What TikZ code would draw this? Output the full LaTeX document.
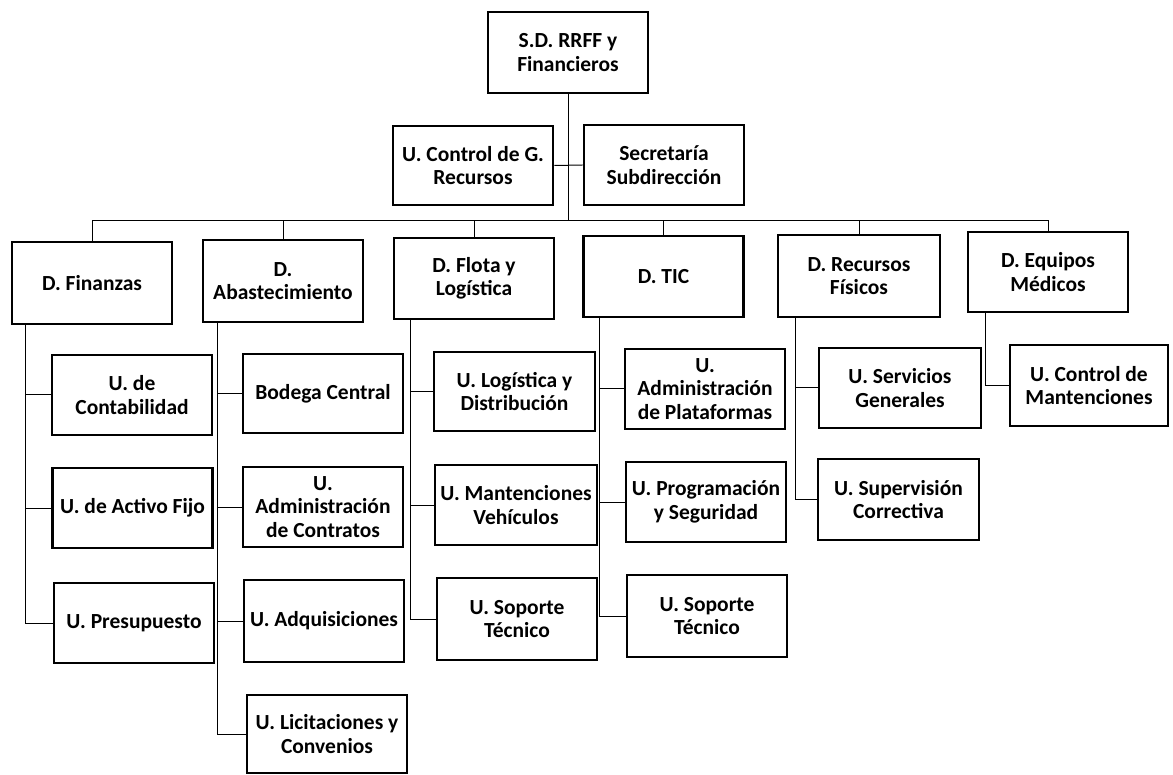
\documentclass[tikz,border=0pt]{standalone}
\usepackage{fontspec}
\setmainfont{Carlito}
\begin{document}
\begin{tikzpicture}[x=1pt,y=-1pt,
  box/.style={draw, line width=2.9pt, align=center, inner sep=0pt,
    minimum width=160pt, minimum height=80pt,
    font=\bfseries\fontsize{21.5}{23.5}\selectfont},
  conn/.style={draw, line width=1pt}]
\useasboundingbox[fill=white] (0,0) rectangle (1173,775);
% top
\node[box, minimum height=81pt] (top) at (568,52.5) {S.D. RRFF y\\Financieros};
\node[box, minimum height=79pt] (ctrl) at (473,165.5) {U. Control de G.\\Recursos};
\node[box] (sec) at (664,165) {Secretaría\\Subdirección};
% departments
\node[box, minimum height=82pt] (fin) at (92,283) {D. Finanzas};
\node[box, minimum height=82pt] (aba) at (283,281) {D.\\Abastecimiento};
\node[box, minimum height=81pt] (flo) at (474,278.5) {D. Flota y\\Logística};
\node[box, minimum height=81pt] (tic) at (663.5,276.5) {D. TIC};
\node[box, minimum width=162pt, minimum height=82pt] (rec) at (859,276) {D. Recursos\\Físicos};
\node[box] (equ) at (1048,272) {D. Equipos\\Médicos};
% Finanzas units
\node[box] (con) at (132,395) {U. de\\Contabilidad};
\node[box] (act) at (132.5,508) {U. de Activo Fijo};
\node[box] (pre) at (134,623) {U. Presupuesto};
% Abastecimiento units
\node[box, minimum height=79pt] (bod) at (323,393.5) {Bodega Central};
\node[box] (adm) at (323,507) {U.\\Administración\\de Contratos};
\node[box, minimum height=82pt] (adq) at (324,621) {U. Adquisiciones};
\node[box, minimum height=78pt] (lic) at (327,734) {U. Licitaciones y\\Convenios};
% Flota units
\node[box, minimum width=161pt, minimum height=79pt] (log) at (514.5,391.5) {U. Logística y\\Distribución};
\node[box, minimum width=162pt] (man) at (516,505) {U. Mantenciones\\Vehículos};
\node[box, minimum height=82pt] (sop1) at (517,619) {U. Soporte\\Técnico};
% TIC units
\node[box] (pla) at (705,389) {U.\\Administración\\de Plataformas};
\node[box] (pro) at (706,502) {U. Programación\\y Seguridad};
\node[box, minimum height=82pt] (sop2) at (707,616) {U. Soporte\\Técnico};
% Recursos Fisicos units
\node[box, minimum width=162pt] (ser) at (900,388) {U. Servicios\\Generales};
\node[box, minimum width=161pt, minimum height=81pt] (sup) at (898.5,499.5) {U. Supervisión\\Correctiva};
% Equipos Medicos unit
\node[box, minimum width=158pt, minimum height=81pt] (cm) at (1089,385.5) {U. Control de\\Mantenciones};
% upper connectors
\coordinate (bus) at (568,221);
\draw[conn] (top.south) -- (bus);
\draw[conn] (ctrl.east) -- (sec.west);
\draw[conn] (fin.north) -- (fin.north |- bus) -- (equ.north |- bus) -- (equ.north);
\foreach \d in {aba,flo,tic,rec} \draw[conn] (\d.north) -- (\d.north |- bus);
% unit connectors
\coordinate (vfin) at ([xshift=15pt]fin.south west);
\coordinate (vaba) at ([xshift=16pt]aba.south west);
\coordinate (vflo) at ([xshift=18pt]flo.south west);
\coordinate (vtic) at ([xshift=17pt]tic.south west);
\coordinate (vrec) at ([xshift=19pt]rec.south west);
\coordinate (vequ) at ([xshift=19pt]equ.south west);
\draw[conn] (vfin) |- (pre.west);
\foreach \u in {con,act} \draw[conn] (vfin |- \u.west) -- (\u.west);
\draw[conn] (vaba) |- (lic.west);
\foreach \u in {bod,adm,adq} \draw[conn] (vaba |- \u.west) -- (\u.west);
\draw[conn] (vflo) |- (sop1.west);
\foreach \u in {log,man} \draw[conn] (vflo |- \u.west) -- (\u.west);
\draw[conn] (vtic) |- (sop2.west);
\foreach \u in {pla,pro} \draw[conn] (vtic |- \u.west) -- (\u.west);
\draw[conn] (vrec) |- (sup.west);
\draw[conn] (vrec |- ser.west) -- (ser.west);
\draw[conn] (vequ) |- (cm.west);
\end{tikzpicture}
\end{document}
